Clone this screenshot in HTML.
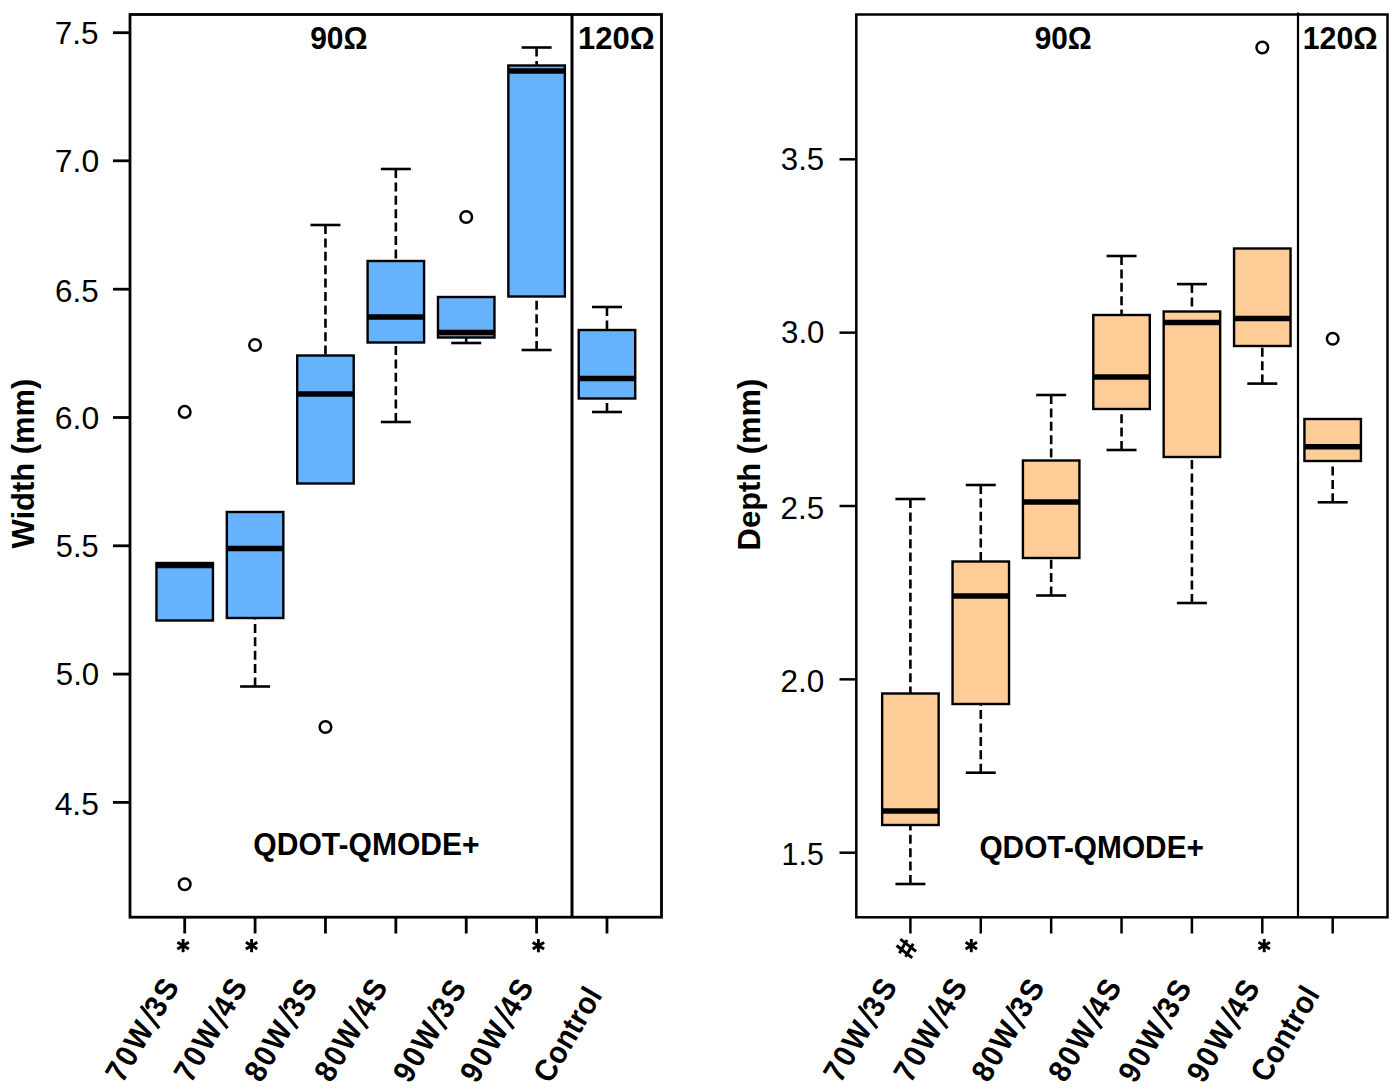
<!DOCTYPE html>
<html><head><meta charset="utf-8"><style>
html,body{margin:0;padding:0;background:#fff;width:1400px;height:1091px;overflow:hidden}
svg{display:block}
text{font-family:"Liberation Sans",sans-serif;fill:#000}
</style></head><body>
<svg width="1400" height="1091" viewBox="0 0 1400 1091">
<rect x="156.45" y="563" width="56.5" height="57.5" fill="#66B2FC" stroke="#000" stroke-width="2.4"/>
<line x1="156.45" y1="565.5" x2="212.95" y2="565.5" stroke="#000" stroke-width="5.5"/>
<circle cx="184.7" cy="411.9" r="5.8" fill="none" stroke="#000" stroke-width="2.5"/>
<circle cx="184.7" cy="884.3" r="5.8" fill="none" stroke="#000" stroke-width="2.5"/>
<line x1="255.08" y1="686.5" x2="255.08" y2="618" stroke="#000" stroke-width="2.6" stroke-dasharray="9 4.4"/>
<line x1="240.08" y1="686.5" x2="270.08" y2="686.5" stroke="#000" stroke-width="2.6"/>
<rect x="226.83" y="512" width="56.5" height="106" fill="#66B2FC" stroke="#000" stroke-width="2.4"/>
<line x1="226.83" y1="548.5" x2="283.33" y2="548.5" stroke="#000" stroke-width="5.5"/>
<circle cx="255.08" cy="345" r="5.8" fill="none" stroke="#000" stroke-width="2.5"/>
<line x1="325.46" y1="225" x2="325.46" y2="355.5" stroke="#000" stroke-width="2.6" stroke-dasharray="9 4.4"/>
<line x1="310.46" y1="225" x2="340.46" y2="225" stroke="#000" stroke-width="2.6"/>
<rect x="297.21" y="355.5" width="56.5" height="128.0" fill="#66B2FC" stroke="#000" stroke-width="2.4"/>
<line x1="297.21" y1="394" x2="353.71" y2="394" stroke="#000" stroke-width="5.5"/>
<circle cx="325.46" cy="727" r="5.8" fill="none" stroke="#000" stroke-width="2.5"/>
<line x1="395.84" y1="169" x2="395.84" y2="261" stroke="#000" stroke-width="2.6" stroke-dasharray="9 4.4"/>
<line x1="380.84" y1="169" x2="410.84" y2="169" stroke="#000" stroke-width="2.6"/>
<line x1="395.84" y1="422" x2="395.84" y2="342.5" stroke="#000" stroke-width="2.6" stroke-dasharray="9 4.4"/>
<line x1="380.84" y1="422" x2="410.84" y2="422" stroke="#000" stroke-width="2.6"/>
<rect x="367.59" y="261" width="56.5" height="81.5" fill="#66B2FC" stroke="#000" stroke-width="2.4"/>
<line x1="367.59" y1="317" x2="424.09" y2="317" stroke="#000" stroke-width="5.5"/>
<line x1="466.22" y1="343" x2="466.22" y2="337.5" stroke="#000" stroke-width="2.6" stroke-dasharray="9 4.4"/>
<line x1="451.22" y1="343" x2="481.22" y2="343" stroke="#000" stroke-width="2.6"/>
<rect x="437.97" y="297" width="56.5" height="40.5" fill="#66B2FC" stroke="#000" stroke-width="2.4"/>
<line x1="437.97" y1="332.5" x2="494.47" y2="332.5" stroke="#000" stroke-width="5.5"/>
<circle cx="466.22" cy="217" r="5.8" fill="none" stroke="#000" stroke-width="2.5"/>
<line x1="536.6" y1="47.5" x2="536.6" y2="65.5" stroke="#000" stroke-width="2.6" stroke-dasharray="9 4.4"/>
<line x1="521.6" y1="47.5" x2="551.6" y2="47.5" stroke="#000" stroke-width="2.6"/>
<line x1="536.6" y1="350" x2="536.6" y2="296.5" stroke="#000" stroke-width="2.6" stroke-dasharray="9 4.4"/>
<line x1="521.6" y1="350" x2="551.6" y2="350" stroke="#000" stroke-width="2.6"/>
<rect x="508.35" y="65.5" width="56.5" height="231.0" fill="#66B2FC" stroke="#000" stroke-width="2.4"/>
<line x1="508.35" y1="71" x2="564.85" y2="71" stroke="#000" stroke-width="5.5"/>
<line x1="606.98" y1="307" x2="606.98" y2="330" stroke="#000" stroke-width="2.6" stroke-dasharray="9 4.4"/>
<line x1="591.98" y1="307" x2="621.98" y2="307" stroke="#000" stroke-width="2.6"/>
<line x1="606.98" y1="412" x2="606.98" y2="398.5" stroke="#000" stroke-width="2.6" stroke-dasharray="9 4.4"/>
<line x1="591.98" y1="412" x2="621.98" y2="412" stroke="#000" stroke-width="2.6"/>
<rect x="578.73" y="330" width="56.5" height="68.5" fill="#66B2FC" stroke="#000" stroke-width="2.4"/>
<line x1="578.73" y1="378.5" x2="635.23" y2="378.5" stroke="#000" stroke-width="5.5"/>
<rect x="130" y="14.5" width="531.5" height="902.7" fill="none" stroke="#000" stroke-width="2.8"/>
<line x1="572" y1="14.5" x2="572" y2="917.2" stroke="#000" stroke-width="3.0"/>
<line x1="113" y1="32.7" x2="130" y2="32.7" stroke="#000" stroke-width="2.8"/>
<line x1="113" y1="160.8" x2="130" y2="160.8" stroke="#000" stroke-width="2.8"/>
<line x1="113" y1="289.2" x2="130" y2="289.2" stroke="#000" stroke-width="2.8"/>
<line x1="113" y1="417.5" x2="130" y2="417.5" stroke="#000" stroke-width="2.8"/>
<line x1="113" y1="545.8" x2="130" y2="545.8" stroke="#000" stroke-width="2.8"/>
<line x1="113" y1="674.1" x2="130" y2="674.1" stroke="#000" stroke-width="2.8"/>
<line x1="113" y1="802.4" x2="130" y2="802.4" stroke="#000" stroke-width="2.8"/>
<line x1="184.7" y1="917" x2="184.7" y2="933.5" stroke="#000" stroke-width="2.8"/>
<line x1="255.08" y1="917" x2="255.08" y2="933.5" stroke="#000" stroke-width="2.8"/>
<line x1="325.46" y1="917" x2="325.46" y2="933.5" stroke="#000" stroke-width="2.8"/>
<line x1="395.84" y1="917" x2="395.84" y2="933.5" stroke="#000" stroke-width="2.8"/>
<line x1="466.22" y1="917" x2="466.22" y2="933.5" stroke="#000" stroke-width="2.8"/>
<line x1="536.6" y1="917" x2="536.6" y2="933.5" stroke="#000" stroke-width="2.8"/>
<line x1="606.98" y1="917" x2="606.98" y2="933.5" stroke="#000" stroke-width="2.8"/>
<line x1="910.4" y1="499" x2="910.4" y2="693.5" stroke="#000" stroke-width="2.6" stroke-dasharray="9 4.4"/>
<line x1="895.4" y1="499" x2="925.4" y2="499" stroke="#000" stroke-width="2.6"/>
<line x1="910.4" y1="884" x2="910.4" y2="825" stroke="#000" stroke-width="2.6" stroke-dasharray="9 4.4"/>
<line x1="895.4" y1="884" x2="925.4" y2="884" stroke="#000" stroke-width="2.6"/>
<rect x="882.15" y="693.5" width="56.5" height="131.5" fill="#FDCC97" stroke="#000" stroke-width="2.4"/>
<line x1="882.15" y1="811" x2="938.65" y2="811" stroke="#000" stroke-width="5.5"/>
<line x1="980.78" y1="485" x2="980.78" y2="561.5" stroke="#000" stroke-width="2.6" stroke-dasharray="9 4.4"/>
<line x1="965.78" y1="485" x2="995.78" y2="485" stroke="#000" stroke-width="2.6"/>
<line x1="980.78" y1="772.7" x2="980.78" y2="704" stroke="#000" stroke-width="2.6" stroke-dasharray="9 4.4"/>
<line x1="965.78" y1="772.7" x2="995.78" y2="772.7" stroke="#000" stroke-width="2.6"/>
<rect x="952.53" y="561.5" width="56.5" height="142.5" fill="#FDCC97" stroke="#000" stroke-width="2.4"/>
<line x1="952.53" y1="596" x2="1009.03" y2="596" stroke="#000" stroke-width="5.5"/>
<line x1="1051.16" y1="395" x2="1051.16" y2="460.5" stroke="#000" stroke-width="2.6" stroke-dasharray="9 4.4"/>
<line x1="1036.16" y1="395" x2="1066.16" y2="395" stroke="#000" stroke-width="2.6"/>
<line x1="1051.16" y1="595.5" x2="1051.16" y2="558" stroke="#000" stroke-width="2.6" stroke-dasharray="9 4.4"/>
<line x1="1036.16" y1="595.5" x2="1066.16" y2="595.5" stroke="#000" stroke-width="2.6"/>
<rect x="1022.91" y="460.5" width="56.5" height="97.5" fill="#FDCC97" stroke="#000" stroke-width="2.4"/>
<line x1="1022.91" y1="502" x2="1079.41" y2="502" stroke="#000" stroke-width="5.5"/>
<line x1="1121.54" y1="256" x2="1121.54" y2="315" stroke="#000" stroke-width="2.6" stroke-dasharray="9 4.4"/>
<line x1="1106.54" y1="256" x2="1136.54" y2="256" stroke="#000" stroke-width="2.6"/>
<line x1="1121.54" y1="450" x2="1121.54" y2="409" stroke="#000" stroke-width="2.6" stroke-dasharray="9 4.4"/>
<line x1="1106.54" y1="450" x2="1136.54" y2="450" stroke="#000" stroke-width="2.6"/>
<rect x="1093.29" y="315" width="56.5" height="94" fill="#FDCC97" stroke="#000" stroke-width="2.4"/>
<line x1="1093.29" y1="377" x2="1149.79" y2="377" stroke="#000" stroke-width="5.5"/>
<line x1="1191.92" y1="284.1" x2="1191.92" y2="311.5" stroke="#000" stroke-width="2.6" stroke-dasharray="9 4.4"/>
<line x1="1176.92" y1="284.1" x2="1206.92" y2="284.1" stroke="#000" stroke-width="2.6"/>
<line x1="1191.92" y1="603" x2="1191.92" y2="457" stroke="#000" stroke-width="2.6" stroke-dasharray="9 4.4"/>
<line x1="1176.92" y1="603" x2="1206.92" y2="603" stroke="#000" stroke-width="2.6"/>
<rect x="1163.67" y="311.5" width="56.5" height="145.5" fill="#FDCC97" stroke="#000" stroke-width="2.4"/>
<line x1="1163.67" y1="322.4" x2="1220.17" y2="322.4" stroke="#000" stroke-width="5.5"/>
<line x1="1262.3" y1="383.6" x2="1262.3" y2="346" stroke="#000" stroke-width="2.6" stroke-dasharray="9 4.4"/>
<line x1="1247.3" y1="383.6" x2="1277.3" y2="383.6" stroke="#000" stroke-width="2.6"/>
<rect x="1234.05" y="248.5" width="56.5" height="97.5" fill="#FDCC97" stroke="#000" stroke-width="2.4"/>
<line x1="1234.05" y1="318.5" x2="1290.55" y2="318.5" stroke="#000" stroke-width="5.5"/>
<circle cx="1262.3" cy="47.5" r="5.8" fill="none" stroke="#000" stroke-width="2.5"/>
<line x1="1332.68" y1="502.3" x2="1332.68" y2="461" stroke="#000" stroke-width="2.6" stroke-dasharray="9 4.4"/>
<line x1="1317.68" y1="502.3" x2="1347.68" y2="502.3" stroke="#000" stroke-width="2.6"/>
<rect x="1304.43" y="419" width="56.5" height="42" fill="#FDCC97" stroke="#000" stroke-width="2.4"/>
<line x1="1304.43" y1="446.7" x2="1360.93" y2="446.7" stroke="#000" stroke-width="5.5"/>
<circle cx="1332.68" cy="338.8" r="5.8" fill="none" stroke="#000" stroke-width="2.5"/>
<rect x="856.3" y="14.5" width="531.2" height="902.8" fill="none" stroke="#000" stroke-width="2.5"/>
<line x1="1298" y1="12.5" x2="1298" y2="917.3" stroke="#000" stroke-width="2.2"/>
<line x1="839.5" y1="159.3" x2="856" y2="159.3" stroke="#000" stroke-width="2.5"/>
<line x1="839.5" y1="332.65" x2="856" y2="332.65" stroke="#000" stroke-width="2.5"/>
<line x1="839.5" y1="506.0" x2="856" y2="506.0" stroke="#000" stroke-width="2.5"/>
<line x1="839.5" y1="679.35" x2="856" y2="679.35" stroke="#000" stroke-width="2.5"/>
<line x1="839.5" y1="852.7" x2="856" y2="852.7" stroke="#000" stroke-width="2.5"/>
<line x1="910.4" y1="917" x2="910.4" y2="933.5" stroke="#000" stroke-width="2.5"/>
<line x1="980.78" y1="917" x2="980.78" y2="933.5" stroke="#000" stroke-width="2.5"/>
<line x1="1051.16" y1="917" x2="1051.16" y2="933.5" stroke="#000" stroke-width="2.5"/>
<line x1="1121.54" y1="917" x2="1121.54" y2="933.5" stroke="#000" stroke-width="2.5"/>
<line x1="1191.92" y1="917" x2="1191.92" y2="933.5" stroke="#000" stroke-width="2.5"/>
<line x1="1262.3" y1="917" x2="1262.3" y2="933.5" stroke="#000" stroke-width="2.5"/>
<line x1="1332.68" y1="917" x2="1332.68" y2="933.5" stroke="#000" stroke-width="2.5"/>
<text x="54.8" y="43.9" font-size="31.13" font-weight="normal" textLength="43.8" lengthAdjust="spacingAndGlyphs">7.5</text>
<text x="54.8" y="171.7" font-size="30.7" font-weight="normal" textLength="44.4" lengthAdjust="spacingAndGlyphs">7.0</text>
<text x="55.1" y="301.5" font-size="31.69" font-weight="normal" textLength="43.6" lengthAdjust="spacingAndGlyphs">6.5</text>
<text x="54.8" y="429.3" font-size="31.27" font-weight="normal" textLength="44.4" lengthAdjust="spacingAndGlyphs">6.0</text>
<text x="55.8" y="557.1" font-size="31.13" font-weight="normal" textLength="42.8" lengthAdjust="spacingAndGlyphs">5.5</text>
<text x="55.8" y="685.1" font-size="31.27" font-weight="normal" textLength="43.4" lengthAdjust="spacingAndGlyphs">5.0</text>
<text x="54.7" y="814.9" font-size="31.27" font-weight="normal" textLength="44.2" lengthAdjust="spacingAndGlyphs">4.5</text>
<text x="780.8" y="170.0" font-size="30.7" font-weight="normal" textLength="43.4" lengthAdjust="spacingAndGlyphs">3.5</text>
<text x="781.1" y="343.4" font-size="30.7" font-weight="normal" textLength="43.4" lengthAdjust="spacingAndGlyphs">3.0</text>
<text x="780.5" y="518.5" font-size="31.13" font-weight="normal" textLength="43.6" lengthAdjust="spacingAndGlyphs">2.5</text>
<text x="780.5" y="691.8" font-size="30.7" font-weight="normal" textLength="43.8" lengthAdjust="spacingAndGlyphs">2.0</text>
<text x="781.6" y="865.4" font-size="31.69" font-weight="normal" textLength="42.2" lengthAdjust="spacingAndGlyphs">1.5</text>
<text x="310.2" y="48.7" font-size="31.59" font-weight="bold" textLength="57.4" lengthAdjust="spacingAndGlyphs">90Ω</text>
<text x="578" y="48.9" font-size="32.03" font-weight="bold" textLength="76.6" lengthAdjust="spacingAndGlyphs">120Ω</text>
<text x="1034.7" y="48.7" font-size="31.59" font-weight="bold" textLength="57.0" lengthAdjust="spacingAndGlyphs">90Ω</text>
<text x="1302.7" y="49.0" font-size="31.88" font-weight="bold" textLength="75.0" lengthAdjust="spacingAndGlyphs">120Ω</text>
<text x="253.3" y="854.8" font-size="31.01" font-weight="bold" textLength="226.4" lengthAdjust="spacingAndGlyphs">QDOT-QMODE+</text>
<text x="979.4" y="858.1" font-size="31.01" font-weight="bold" textLength="224.6" lengthAdjust="spacingAndGlyphs">QDOT-QMODE+</text>
<text transform="translate(33.9,548.4) rotate(-90)" font-size="31.16" font-weight="bold" textLength="169.8" lengthAdjust="spacingAndGlyphs">Width (mm)</text>
<text transform="translate(760.3,550.4) rotate(-90)" font-size="31.3" font-weight="bold" textLength="171.8" lengthAdjust="spacingAndGlyphs">Depth (mm)</text>
<text transform="translate(122.6,1084.05) rotate(-59.5) scale(0.92,1)" font-size="31.2" font-weight="bold" textLength="122.96" lengthAdjust="spacing">70W<tspan fill="transparent">/</tspan>3S</text>
<line transform="translate(122.6,1084.05) rotate(-59.5)" x1="76.58" y1="-23.9" x2="66.58" y2="3.3" stroke="#000" stroke-width="3.2"/>
<text transform="translate(190.9,1084.05) rotate(-59.5) scale(0.92,1)" font-size="31.2" font-weight="bold" textLength="122.96" lengthAdjust="spacing">70W<tspan fill="transparent">/</tspan>4S</text>
<line transform="translate(190.9,1084.05) rotate(-59.5)" x1="76.58" y1="-23.9" x2="66.58" y2="3.3" stroke="#000" stroke-width="3.2"/>
<text transform="translate(261.15,1083.85) rotate(-59.5) scale(0.92,1)" font-size="31.2" font-weight="bold" textLength="122.22" lengthAdjust="spacing">80W<tspan fill="transparent">/</tspan>3S</text>
<line transform="translate(261.15,1083.85) rotate(-59.5)" x1="76.18" y1="-23.9" x2="66.18" y2="3.3" stroke="#000" stroke-width="3.2"/>
<text transform="translate(331.3,1083.85) rotate(-59.5) scale(0.92,1)" font-size="31.2" font-weight="bold" textLength="122.22" lengthAdjust="spacing">80W<tspan fill="transparent">/</tspan>4S</text>
<line transform="translate(331.3,1083.85) rotate(-59.5)" x1="76.18" y1="-23.9" x2="66.18" y2="3.3" stroke="#000" stroke-width="3.2"/>
<text transform="translate(410.1,1084.6) rotate(-59.5) scale(0.92,1)" font-size="31.2" font-weight="bold" textLength="122.22" lengthAdjust="spacing">90W<tspan fill="transparent">/</tspan>3S</text>
<line transform="translate(410.1,1084.6) rotate(-59.5)" x1="76.18" y1="-23.9" x2="66.18" y2="3.3" stroke="#000" stroke-width="3.2"/>
<text transform="translate(477.05,1084.4) rotate(-59.5) scale(0.92,1)" font-size="31.2" font-weight="bold" textLength="122.96" lengthAdjust="spacing">90W<tspan fill="transparent">/</tspan>4S</text>
<line transform="translate(477.05,1084.4) rotate(-59.5)" x1="76.58" y1="-23.9" x2="66.58" y2="3.3" stroke="#000" stroke-width="3.2"/>
<text transform="translate(550.25,1084.65) rotate(-59.5) scale(0.92,1)" font-size="31.2" font-weight="bold" textLength="113.09" lengthAdjust="spacing">Control</text>
<text transform="translate(840.55,1084.05) rotate(-59.5) scale(0.92,1)" font-size="31.2" font-weight="bold" textLength="122.96" lengthAdjust="spacing">70W<tspan fill="transparent">/</tspan>3S</text>
<line transform="translate(840.55,1084.05) rotate(-59.5)" x1="76.58" y1="-23.9" x2="66.58" y2="3.3" stroke="#000" stroke-width="3.2"/>
<text transform="translate(910.8,1084.05) rotate(-59.5) scale(0.92,1)" font-size="31.2" font-weight="bold" textLength="122.96" lengthAdjust="spacing">70W<tspan fill="transparent">/</tspan>4S</text>
<line transform="translate(910.8,1084.05) rotate(-59.5)" x1="76.58" y1="-23.9" x2="66.58" y2="3.3" stroke="#000" stroke-width="3.2"/>
<text transform="translate(988.4,1083.85) rotate(-59.5) scale(0.92,1)" font-size="31.2" font-weight="bold" textLength="122.22" lengthAdjust="spacing">80W<tspan fill="transparent">/</tspan>3S</text>
<line transform="translate(988.4,1083.85) rotate(-59.5)" x1="76.18" y1="-23.9" x2="66.18" y2="3.3" stroke="#000" stroke-width="3.2"/>
<text transform="translate(1065.35,1083.85) rotate(-59.5) scale(0.92,1)" font-size="31.2" font-weight="bold" textLength="122.22" lengthAdjust="spacing">80W<tspan fill="transparent">/</tspan>4S</text>
<line transform="translate(1065.35,1083.85) rotate(-59.5)" x1="76.18" y1="-23.9" x2="66.18" y2="3.3" stroke="#000" stroke-width="3.2"/>
<text transform="translate(1135.35,1084.6) rotate(-59.5) scale(0.92,1)" font-size="31.2" font-weight="bold" textLength="122.22" lengthAdjust="spacing">90W<tspan fill="transparent">/</tspan>3S</text>
<line transform="translate(1135.35,1084.6) rotate(-59.5)" x1="76.18" y1="-23.9" x2="66.18" y2="3.3" stroke="#000" stroke-width="3.2"/>
<text transform="translate(1203.7,1084.6) rotate(-59.5) scale(0.92,1)" font-size="31.2" font-weight="bold" textLength="122.22" lengthAdjust="spacing">90W<tspan fill="transparent">/</tspan>4S</text>
<line transform="translate(1203.7,1084.6) rotate(-59.5)" x1="76.18" y1="-23.9" x2="66.18" y2="3.3" stroke="#000" stroke-width="3.2"/>
<text transform="translate(1267.55,1084.1) rotate(-59.5) scale(0.92,1)" font-size="31.2" font-weight="bold" textLength="113.57" lengthAdjust="spacing">Control</text>
<line x1="183.10" y1="939.00" x2="183.10" y2="952.20" stroke="#000" stroke-width="2.9"/><line x1="177.38" y1="942.30" x2="188.82" y2="948.90" stroke="#000" stroke-width="2.9"/><line x1="188.82" y1="942.30" x2="177.38" y2="948.90" stroke="#000" stroke-width="2.9"/>
<line x1="251.60" y1="939.00" x2="251.60" y2="952.20" stroke="#000" stroke-width="2.9"/><line x1="245.88" y1="942.30" x2="257.32" y2="948.90" stroke="#000" stroke-width="2.9"/><line x1="257.32" y1="942.30" x2="245.88" y2="948.90" stroke="#000" stroke-width="2.9"/>
<line x1="538.40" y1="939.10" x2="538.40" y2="952.30" stroke="#000" stroke-width="2.9"/><line x1="532.68" y1="942.40" x2="544.12" y2="949.00" stroke="#000" stroke-width="2.9"/><line x1="544.12" y1="942.40" x2="532.68" y2="949.00" stroke="#000" stroke-width="2.9"/>
<line x1="971.30" y1="939.00" x2="971.30" y2="952.20" stroke="#000" stroke-width="2.9"/><line x1="965.58" y1="942.30" x2="977.02" y2="948.90" stroke="#000" stroke-width="2.9"/><line x1="977.02" y1="942.30" x2="965.58" y2="948.90" stroke="#000" stroke-width="2.9"/>
<line x1="1264.20" y1="939.00" x2="1264.20" y2="952.20" stroke="#000" stroke-width="2.9"/><line x1="1258.48" y1="942.30" x2="1269.92" y2="948.90" stroke="#000" stroke-width="2.9"/><line x1="1269.92" y1="942.30" x2="1258.48" y2="948.90" stroke="#000" stroke-width="2.9"/>
<g transform="translate(906.3,948.4) rotate(-59.5)" stroke="#000" stroke-width="2.9"><line x1="-2.45" y1="-9.9" x2="-5.05" y2="9.9"/><line x1="5.05" y1="-9.9" x2="2.45" y2="9.9"/><line x1="-7.6" y1="-3.55" x2="7.6" y2="-3.55"/><line x1="-7.6" y1="3.55" x2="7.6" y2="3.55"/></g>
</svg>
</body></html>
